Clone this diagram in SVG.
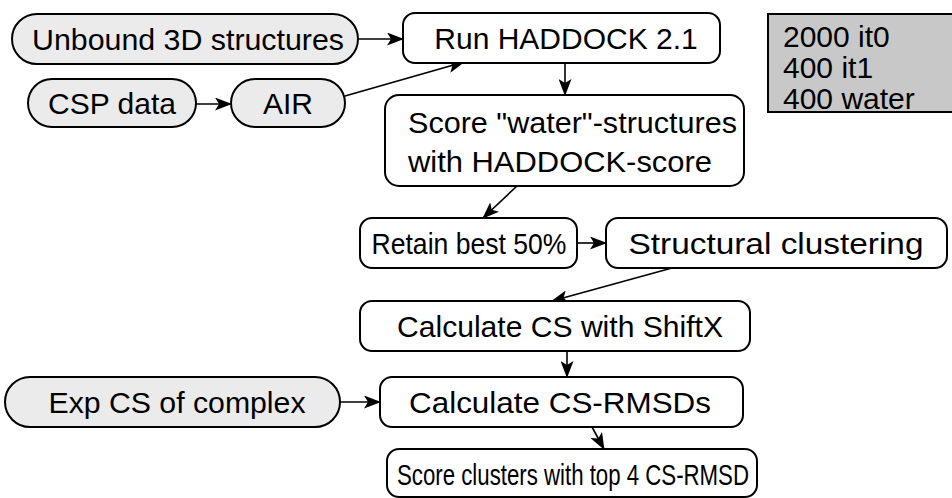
<svg xmlns="http://www.w3.org/2000/svg" width="952" height="498" viewBox="0 0 952 498">
<style>
.b{fill:#fff;stroke:#000;stroke-width:2}
.g{fill:#ebebeb;stroke:#000;stroke-width:2}
.t{font-family:"Liberation Sans",Arial,sans-serif;font-size:30px;fill:#000;text-anchor:middle}
.s{text-anchor:start}
.c{fill:none;stroke:#000;stroke-width:1.6;marker-end:url(#ah)}
</style>
<defs>
<marker id="ah" markerUnits="userSpaceOnUse" markerWidth="17" markerHeight="13" refX="16" refY="6.5" orient="auto">
<path d="M0,0 L17,6.5 L0,13 L4,6.5 z" fill="#000"/>
</marker>
</defs>
<rect width="952" height="498" fill="#fff"/>
<g id="connectors">
<line class="c" x1="358" y1="39" x2="403" y2="39"/>
<line class="c" x1="345" y1="96" x2="464" y2="62"/>
<line class="c" x1="196" y1="104" x2="231" y2="104"/>
<line class="c" x1="565" y1="63" x2="565" y2="95"/>
<line class="c" x1="517" y1="186" x2="483" y2="218"/>
<line class="c" x1="577" y1="243" x2="606" y2="243"/>
<line class="c" x1="672" y1="268" x2="552" y2="301"/>
<line class="c" x1="567" y1="351" x2="567" y2="377"/>
<line class="c" x1="340" y1="402" x2="380" y2="402"/>
<line class="c" x1="592" y1="427" x2="604" y2="449"/>
</g>
<g id="unbound"><rect class="g" x="12" y="14" width="346" height="50" rx="25"/><text class="t" x="188" y="50" textLength="312" lengthAdjust="spacingAndGlyphs">Unbound 3D structures</text></g>
<g id="run"><rect class="b" x="403" y="13" width="317" height="50" rx="12"/><text class="t" x="566" y="49">Run HADDOCK 2.1</text></g>
<g id="counts"><rect x="768" y="14" width="190" height="98" fill="#c8c8c8" stroke="#000" stroke-width="2"/>
<text class="t s" x="783" y="47">2000 it0</text>
<text class="t s" x="783" y="78">400 it1</text>
<text class="t s" x="783" y="109">400 water</text></g>
<g id="csp"><rect class="g" x="28" y="79" width="168" height="48" rx="24"/><text class="t" x="112" y="114">CSP data</text></g>
<g id="air"><rect class="g" x="231" y="79" width="114" height="48" rx="24"/><text class="t" x="288" y="114">AIR</text></g>
<g id="score"><rect class="b" x="385" y="95" width="359" height="91" rx="14"/><text class="t s" x="408" y="133" textLength="329" lengthAdjust="spacingAndGlyphs">Score "water"-structures</text><text class="t s" x="408" y="172" textLength="304" lengthAdjust="spacingAndGlyphs">with HADDOCK-score</text></g>
<g id="retain"><rect class="b" x="360" y="218" width="217" height="50" rx="12"/><text class="t" x="469" y="254" textLength="195" lengthAdjust="spacingAndGlyphs">Retain best 50%</text></g>
<g id="cluster"><rect class="b" x="606" y="218" width="341" height="50" rx="12"/><text class="t" x="776" y="254" textLength="295" lengthAdjust="spacingAndGlyphs">Structural clustering</text></g>
<g id="shiftx"><rect class="b" x="360" y="301" width="390" height="50" rx="12"/><text class="t" x="560" y="337" textLength="326" lengthAdjust="spacingAndGlyphs">Calculate CS with ShiftX</text></g>
<g id="exp"><rect class="g" x="5" y="377" width="335" height="50" rx="25"/><text class="t" x="177" y="413" textLength="257" lengthAdjust="spacingAndGlyphs">Exp CS of complex</text></g>
<g id="rmsd"><rect class="b" x="380" y="377" width="363" height="50" rx="12"/><text class="t" x="560" y="413" textLength="302" lengthAdjust="spacingAndGlyphs">Calculate CS-RMSDs</text></g>
<g id="final"><rect class="b" x="387" y="449" width="370" height="48" rx="12"/><text class="t" x="573" y="485" textLength="352" lengthAdjust="spacingAndGlyphs">Score clusters with top 4 CS-RMSD</text></g>
</svg>
